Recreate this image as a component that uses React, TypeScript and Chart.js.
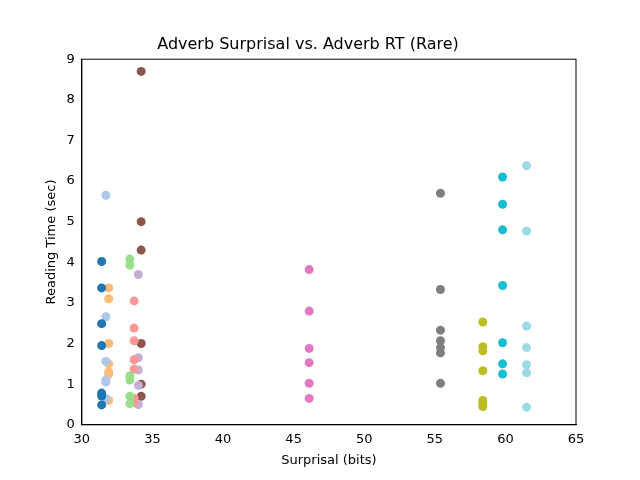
import { useEffect, useRef } from 'react';
import { Chart, registerables } from 'chart.js';

Chart.register(...registerables);

const groupX = [31.4, 31.7, 31.9, 33.4, 33.7, 34.0, 34.2, 46.1, 55.4, 58.4, 59.8, 61.5];
const groupColors = [
  '#1f77b4', '#aec7e8', '#ffbb78', '#98df8a', '#ff9896', '#c5b0d5',
  '#8c564b', '#e377c2', '#7f7f7f', '#bcbd22', '#17becf', '#9edae5'
];
const groupRT = [
  [4.02, 3.37, 2.49, 1.95, 0.78, 0.71, 0.49],
  [5.65, 2.66, 1.56, 1.1, 1.05, 0.65],
  [3.37, 3.1, 2.0, 1.5, 1.3, 1.25, 0.6],
  [4.08, 3.93, 1.2, 1.1, 0.7, 0.52],
  [3.05, 2.38, 2.07, 1.6, 1.37, 0.65, 0.55],
  [3.7, 1.65, 1.35, 0.97, 0.5],
  [8.7, 5.0, 4.3, 2.0, 1.0, 0.7],
  [3.82, 2.8, 1.88, 1.53, 1.02, 0.65],
  [5.7, 3.33, 2.33, 2.07, 1.9, 1.77, 1.02],
  [2.53, 1.92, 1.82, 1.33, 0.6, 0.53, 0.45],
  [6.1, 5.43, 4.8, 3.43, 2.02, 1.5, 1.25],
  [6.38, 4.77, 2.43, 1.9, 1.48, 1.28, 0.43]
];

const frame = {
  id: 'frame',
  afterDraw(chart: Chart) {
    const { ctx, chartArea: a } = chart;
    ctx.save();
    ctx.strokeStyle = '#000';
    ctx.lineWidth = 1;
    ctx.strokeRect(a.left, a.top, a.right - a.left, a.bottom - a.top);
    ctx.restore();
  }
};

export default function App() {
  const canvasRef = useRef<HTMLCanvasElement | null>(null);

  useEffect(() => {
    document.body.style.margin = '0';
    Chart.defaults.font.family = 'DejaVu Sans';
    Chart.defaults.color = '#000';
    const chart = new Chart(canvasRef.current!, {
      type: 'scatter',
      data: {
        datasets: groupX.map((x, i) => ({
          data: groupRT[i].map((y) => ({ x, y })),
          backgroundColor: groupColors[i],
          borderWidth: 0,
          pointRadius: 4.5,
          pointHoverRadius: 4.5
        }))
      },
      options: {
        animation: false,
        responsive: false,
        layout: { padding: { left: 40, right: 64, top: 35, bottom: 10 } },
        plugins: {
          legend: { display: false },
          tooltip: { enabled: false },
          title: {
            display: true,
            text: 'Adverb Surprisal vs. Adverb RT (Rare)',
            font: { size: 16, weight: 'normal' },
            padding: { top: 0, bottom: 5 }
          }
        },
        scales: {
          x: {
            min: 30,
            max: 65,
            ticks: { stepSize: 5, font: { size: 13 }, maxRotation: 0 },
            grid: { display: false, drawTicks: true, tickLength: 4, tickColor: '#000' },
            border: { color: '#000' },
            title: { display: true, text: 'Surprisal (bits)', font: { size: 13 }, padding: 2 }
          },
          y: {
            min: 0,
            max: 9,
            ticks: { stepSize: 1, font: { size: 13 } },
            grid: { display: false, drawTicks: true, tickLength: 4, tickColor: '#000' },
            border: { color: '#000' },
            title: { display: true, text: 'Reading Time (sec)', font: { size: 13 }, padding: 4 }
          }
        }
      },
      plugins: [frame]
    });
    return () => chart.destroy();
  }, []);

  return <canvas ref={canvasRef} width={640} height={480} />;
}
